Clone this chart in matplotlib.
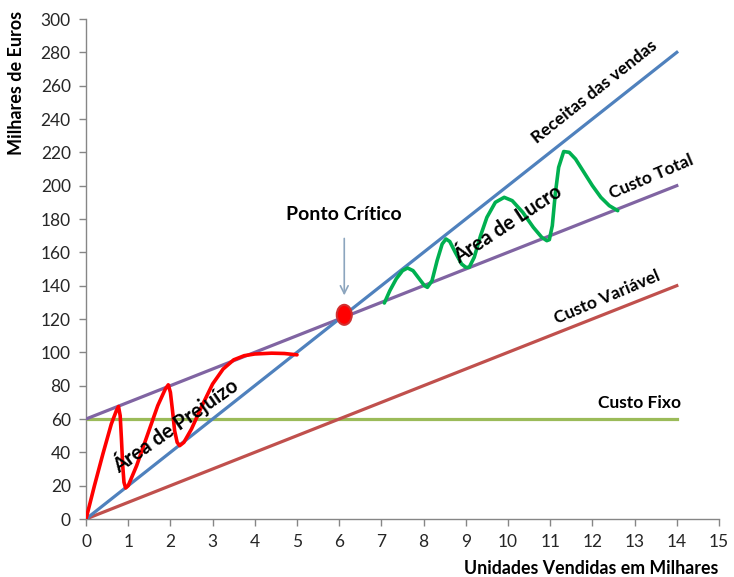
import numpy as np
import matplotlib
matplotlib.use('Agg')
import matplotlib.pyplot as plt
from matplotlib.patches import Ellipse

plt.rcParams['font.family'] = ['Lato', 'DejaVu Sans']

#--------------------------------------------------- data
units = [0, 14]
receitas = [0, 280]
custo_total = [60, 200]
custo_variavel = [0, 140]
custo_fixo = [60, 60]

ponto_critico = (6.12, 122.5)

# hand drawn squiggles
prej_x = [0, 0.2, 0.4, 0.6, 0.72, 0.77, 0.81, 0.84, 0.87, 0.9, 0.94, 1.0, 1.2, 1.45, 1.7, 1.88, 1.95,
          2.0, 2.05, 2.1, 2.16, 2.22, 2.32, 2.5, 2.75, 3.0, 3.25, 3.5, 3.75, 4.0, 4.4, 4.7, 5.0]
prej_y = [0, 20, 39, 57, 65, 67.5, 62, 48, 32, 22, 18.6, 20, 32, 50, 68, 78, 80.5,
          76, 65, 53, 46, 44, 46, 54, 68, 81, 90, 95.5, 98, 99, 99.5, 99.3, 98.5]

lucro_x = [7.07, 7.2, 7.35, 7.5, 7.62, 7.75, 7.9, 8.02, 8.09, 8.2, 8.32, 8.44, 8.53, 8.62, 8.75, 8.9, 9.0, 9.08,
           9.2, 9.35, 9.5, 9.7, 9.91, 10.1, 10.35, 10.6, 10.8, 10.92, 10.98, 11.05, 11.12, 11.2, 11.32,
           11.45, 11.6, 11.8, 12.0, 12.2, 12.4, 12.6]
lucro_y = [129.6, 137, 144, 149, 150.6, 149, 144, 140, 139, 143, 155, 165, 168, 166.5, 160, 153, 151, 151,
           157, 170, 181, 190, 193, 191, 184, 175, 169, 167, 167.6, 176, 195, 211, 220.5,
           220, 216, 208, 200, 193, 188, 185]

xticks = np.arange(0, 16, 1)
yticks = np.arange(0, 320, 20)

#--------------------------------------------------- figure
fig = plt.figure(figsize=(7.34, 5.77), dpi=100)
ax = fig.add_axes([86/734, 1-519/577, (719-86)/734, (519-19)/577])

lw = 2.3
ax.plot(units, custo_fixo, color='#9BBB59', lw=lw, zorder=3)
ax.plot(units, custo_variavel, color='#C0504D', lw=lw, zorder=3)
ax.plot(units, custo_total, color='#8064A2', lw=lw, zorder=3)
ax.plot(units, receitas, color='#4F81BD', lw=lw, zorder=3)

ax.plot(prej_x, prej_y, color='#FF0000', lw=2.6, zorder=4, solid_capstyle='round')
ax.plot(lucro_x, lucro_y, color='#00B050', lw=2.6, zorder=4, solid_capstyle='round')

ell = Ellipse(ponto_critico, width=15/42.2, height=20/1.6667, facecolor='#FF0000',
              edgecolor='#D03030', lw=1.5, zorder=6)
ax.add_patch(ell)
ax.annotate('', xy=(ponto_critico[0], 132.5), xytext=(ponto_critico[0], 170),
            arrowprops=dict(arrowstyle='->', color='#8CA5BE', lw=1.2, mutation_scale=14), zorder=5)

bold = dict(fontweight='bold', color='black', fontsize=12.5, ha='center', va='center', zorder=7)
ax.text(6.1, 183, 'Ponto Crítico', **dict(bold, fontsize=14))
ax.text(12.06, 256, 'Receitas das vendas', rotation=38.5, **bold)
ax.text(13.4, 205, 'Custo Total', rotation=23, **bold)
ax.text(12.35, 133, 'Custo Variável', rotation=23, **bold)
ax.text(13.11, 69.6, 'Custo Fixo', **bold)
ax.text(2.11, 56.5, 'Área de Prejuízo', rotation=35, **dict(bold, fontsize=14.5))
ax.text(9.99, 177, 'Área de Lucro', rotation=33.5, **dict(bold, fontsize=14.5))

ax.set_xlim(0, 15)
ax.set_ylim(0, 300)
ax.set_xticks(xticks)
ax.set_yticks(yticks)
ax.tick_params(axis='both', labelsize=12.5, color='#868686', length=5, width=1, labelcolor='#262626', pad=6)
for s in ['top', 'right']:
  ax.spines[s].set_visible(False)
for s in ['left', 'bottom']:
  ax.spines[s].set_color('#868686')
  ax.spines[s].set_linewidth(1)

fig.text(17/734, 1-83/577, 'Milhares de Euros', rotation=90, fontweight='bold', fontsize=13,
         ha='center', va='center')
fig.text(591/734, 1-568/577, 'Unidades Vendidas em Milhares', fontweight='bold', fontsize=12.8,
         ha='center', va='center')

fig.savefig('out.png', dpi=100)
